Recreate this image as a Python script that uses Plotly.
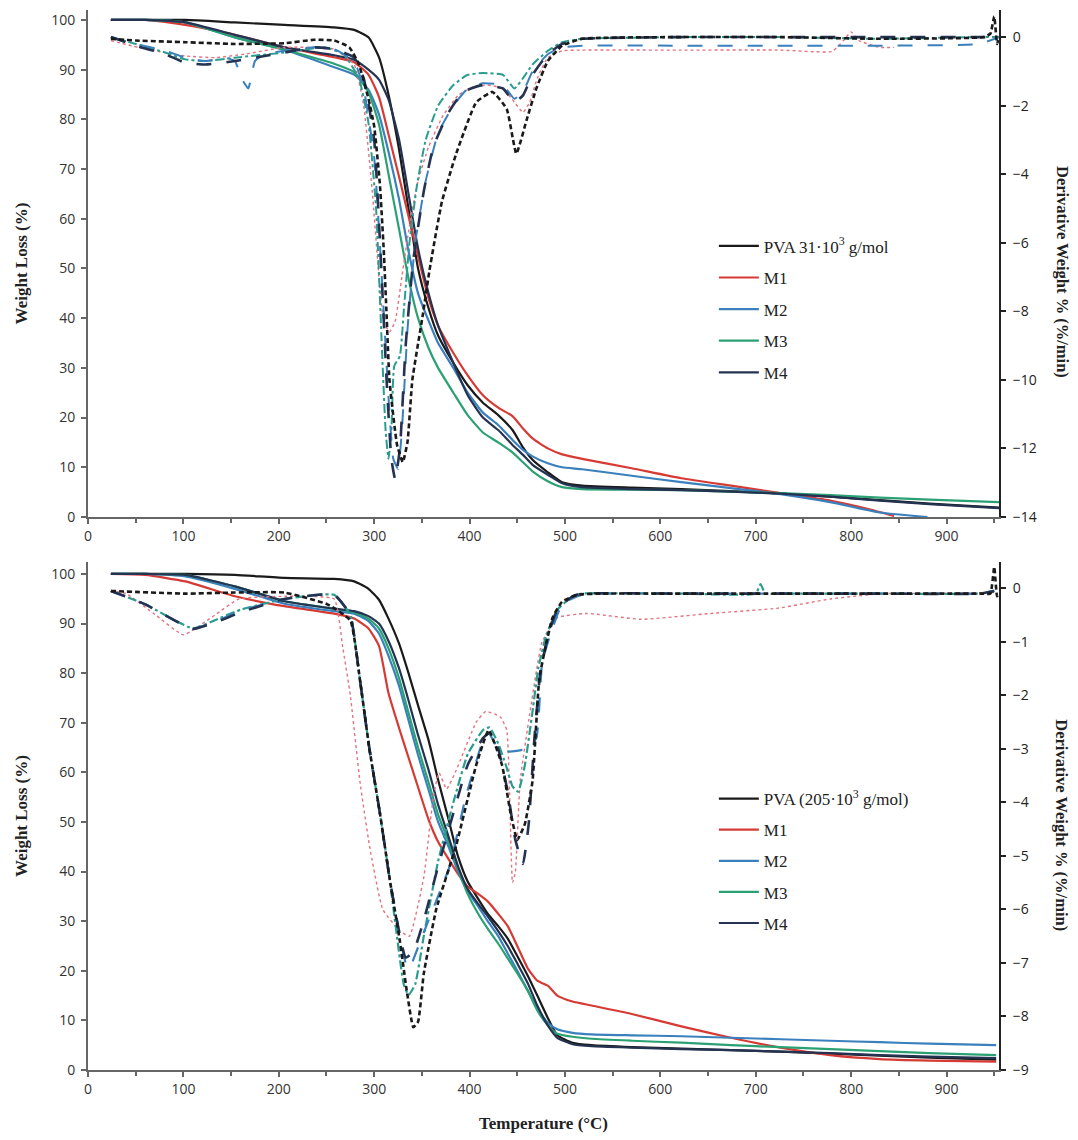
import plotly.graph_objects as go

# ---------------- DATA ----------------
# Top panel (PVA 31·10^3 g/mol) - TGA, weight %
T_tga_top = [24, 60, 102, 154, 206, 258, 279, 294, 305, 315, 326, 336, 346, 357, 367, 383, 398, 414, 430, 445, 456, 466, 482, 497, 518, 570, 622, 674, 726, 778, 830, 882, 955]
w_pva_top = [100, 100, 100, 99.5, 99, 98.5, 98, 96.5, 92.5, 85, 74, 62, 50, 42, 36.5, 31, 26.5, 23, 20.5, 17.5, 14, 11.5, 9, 7, 6.3, 5.9, 5.6, 5.2, 4.7, 4.1, 3.4, 2.7, 1.9]
w_m3_top = [100, 100, 99.5, 96.5, 94, 91.2, 89.5, 85.5, 79, 69, 58, 48, 40, 34, 30, 25, 20.5, 17, 15, 13, 11, 9.2, 7.2, 6, 5.6, 5.5, 5.4, 5.1, 4.8, 4.4, 3.9, 3.5, 3.0]
w_m4_top = [100, 100, 99.5, 97, 94.5, 92.9, 92, 90, 88, 84, 76, 65, 54, 45, 38.5, 31, 24.5, 20, 17.5, 14.5, 12.5, 10.5, 8.5, 6.8, 6, 5.6, 5.4, 5.1, 4.7, 4.1, 3.3, 2.6, 1.8]
T_m1_top = [24, 60, 102, 154, 206, 258, 279, 294, 305, 315, 326, 336, 346, 357, 367, 383, 398, 414, 430, 445, 456, 466, 482, 497, 518, 570, 622, 674, 726, 778, 820, 845]
w_m1_top = [100, 100, 99, 97, 94.5, 92.5, 91.5, 89, 84.5, 77, 68.5, 60.5, 52.5, 44, 38.5, 33, 28.5, 24.5, 22, 20.3, 17.8, 15.8, 13.8, 12.6, 11.7, 9.8, 7.8, 6.3, 4.8, 3.3, 1.5, 0.2]
T_m2_top = [24, 60, 102, 154, 206, 258, 279, 294, 305, 315, 326, 336, 346, 357, 367, 383, 398, 414, 430, 445, 456, 466, 482, 497, 518, 570, 622, 674, 726, 778, 830, 880]
w_m2_top = [100, 100, 99.5, 96.5, 94, 90.5, 89, 86, 81, 73.5, 64, 53.5, 45, 39.5, 35, 30, 25, 21, 18.5, 15.5, 13.5, 12.2, 10.8, 10, 9.6, 8.3, 7.0, 5.8, 4.6, 3.0, 0.9, 0.0]

# Top panel - DTG, derivative weight %/min
T_dpva_top = [24, 50, 102, 154, 206, 237, 258, 274, 284, 294, 300, 306, 310, 313, 316, 324, 330, 335, 340, 351, 358, 371, 386, 407, 424, 439, 449, 460, 470, 482, 497, 518, 622, 726, 830, 939, 946, 950, 953, 955]
d_pva_top = [-0.05, -0.1, -0.15, -0.2, -0.18, -0.08, -0.1, -0.3, -0.8, -1.8, -2.6, -4.3, -6.2, -8.1, -10, -11.9, -12.4, -11.8, -10, -8.1, -6.8, -4.8, -3.4, -1.9, -1.6, -2.1, -3.4, -2.4, -1.5, -0.7, -0.25, -0.05, 0, 0, -0.05, 0, 0.1, 0.6, -0.2, 0]
T_dm1_top = [24, 60, 102, 133, 164, 206, 258, 279, 289, 298, 305, 310, 316, 322, 329, 337, 346, 357, 372, 388, 404, 419, 435, 447, 456, 463, 471, 482, 497, 518, 622, 726, 780, 792, 800, 808, 830, 845]
d_m1_top = [-0.1, -0.35, -0.55, -0.6, -0.5, -0.3, -0.35, -0.8, -2, -4.5, -7, -8.3, -8.6, -8.3, -7, -5.5, -4.2, -3.2, -2.3, -1.7, -1.45, -1.4, -1.5, -1.9, -2.2, -1.9, -1.2, -0.6, -0.4, -0.38, -0.38, -0.38, -0.42, -0.1, 0.15, -0.1, -0.3, -0.3]
T_dm2_top = [24, 50, 81, 102, 123, 144, 154, 161, 168, 175, 185, 206, 237, 258, 279, 289, 300, 308, 315, 320, 325, 329, 335, 343, 354, 367, 383, 398, 414, 435, 447, 456, 466, 482, 497, 518, 622, 726, 830, 934, 955]
d_m2_top = [0, -0.2, -0.4, -0.6, -0.7, -0.6, -0.7, -1.2, -1.5, -0.7, -0.5, -0.4, -0.3, -0.35, -0.7, -1.5, -3.5, -7, -10.5, -12.3, -12.6, -11.5, -8.5, -6, -4.2, -2.8, -2, -1.5, -1.35, -1.4, -1.8, -1.6, -1, -0.5, -0.3, -0.25, -0.25, -0.25, -0.25, -0.2, 0]
T_dm3_top = [24, 50, 81, 102, 123, 154, 206, 248, 268, 284, 294, 302, 308, 312, 315, 318, 321, 327, 331, 337, 345, 354, 367, 383, 398, 414, 435, 447, 456, 466, 482, 497, 518, 622, 726, 830, 934, 955]
d_m3_top = [0, -0.2, -0.45, -0.65, -0.7, -0.6, -0.45, -0.3, -0.5, -1.2, -2.5, -5, -9, -11.5, -12.3, -11.5, -9.6, -9.3, -8, -6, -4.3, -3, -2, -1.4, -1.1, -1.05, -1.1, -1.5, -1.2, -0.8, -0.4, -0.15, -0.05, 0, 0, -0.05, 0, 0]
T_dm4_top = [24, 50, 81, 102, 123, 154, 185, 206, 237, 258, 279, 289, 300, 307, 313, 318, 322, 327, 333, 341, 352, 362, 378, 393, 414, 435, 447, 456, 466, 482, 497, 518, 622, 726, 830, 934, 955]
d_m4_top = [0, -0.25, -0.5, -0.75, -0.8, -0.7, -0.55, -0.45, -0.3, -0.35, -0.6, -1.2, -3, -6.5, -10, -12.3, -12.9, -12, -9, -6.5, -4.5, -3.2, -2.2, -1.6, -1.4, -1.5, -1.9, -1.7, -1.1, -0.5, -0.2, -0.05, 0, 0, 0, 0, 0]

# Bottom panel (PVA 205·10^3 g/mol) - TGA
T_tga_bot = [24, 60, 102, 154, 206, 258, 279, 294, 305, 315, 326, 336, 346, 357, 367, 378, 388, 398, 409, 419, 430, 440, 450, 461, 471, 482, 492, 508, 528, 570, 622, 674, 726, 778, 830, 882, 952]
w_pva_bot = [100, 100, 100, 99.8, 99.2, 99, 98.5, 97, 94.8, 91, 86, 80, 73.5, 66.5, 58.5, 50.5, 43, 38, 34.5, 31.5, 29, 26.5, 23, 19, 15, 10.5, 7, 5.5, 5, 4.6, 4.3, 4, 3.7, 3.3, 2.9, 2.5, 2.1]
w_m1_bot = [100, 99.8, 98.5, 95.5, 93.5, 92, 91, 89, 85.5, 76, 69, 63, 57, 50.5, 46, 42.5, 39.5, 37, 35.5, 34, 31.5, 29, 25, 20.5, 18, 17, 15, 13.8, 13, 11.3, 8.8, 6.5, 4.5, 3, 2.2, 1.9, 1.7]
w_m2_bot = [100, 100, 99.5, 97, 94, 92.5, 92, 90.5, 88, 83.5, 77.5, 70.5, 63.5, 56.5, 50, 45, 40, 36, 33, 30, 27, 23.5, 20, 16, 12.5, 9.5, 8.2, 7.5, 7.2, 7, 6.8, 6.5, 6.2, 5.9, 5.6, 5.3, 5.0]
w_m3_bot = [100, 100, 99.8, 97.5, 94.5, 93, 92.3, 91, 89, 85, 79, 72, 65, 58, 51.5, 46, 40.5, 35.5, 31.5, 28.5, 25.5, 22.5, 19.5, 16, 12, 9, 7.3, 6.7, 6.3, 5.9, 5.5, 5, 4.6, 4.2, 3.8, 3.4, 3.0]
w_m4_bot = [100, 100, 99.8, 97.5, 94.5, 93, 92.5, 91.5, 90, 86.5, 81, 74.5, 67.5, 60.5, 53.5, 47, 41, 36.5, 33.5, 31, 28, 25, 21.5, 17.5, 13, 9, 6.5, 5.2, 4.8, 4.5, 4.2, 4, 3.7, 3.4, 3, 2.7, 2.4]

# Bottom panel - DTG
T_dpva_bot = [24, 102, 154, 206, 251, 275, 285, 295, 306, 316, 327, 334, 341, 346, 352, 365, 386, 407, 420, 434, 443, 450, 458, 466, 473, 480, 487, 497, 513, 539, 622, 726, 830, 939, 946, 950, 953, 955]
d_pva_bot = [-0.05, -0.1, -0.08, -0.08, -0.3, -0.6, -1.7, -3.0, -4.2, -5.4, -6.6, -7.5, -8.2, -8.1, -7.2, -6, -4.8, -3.3, -2.65, -3.3, -4.2, -4.7, -4.4, -3.6, -1.7, -1.06, -0.55, -0.25, -0.12, -0.1, -0.1, -0.1, -0.1, -0.1, -0.1, 0.4, -0.15, -0.1]
T_dm1_bot = [24, 40, 71, 100, 133, 158, 206, 258, 267, 275, 285, 295, 309, 327, 337, 352, 362, 368, 376, 386, 407, 417, 432, 439, 445, 448, 453, 463, 470, 476, 492, 523, 580, 653, 724, 778, 833, 882, 950]
d_m1_bot = [-0.05, -0.1, -0.5, -0.87, -0.5, -0.2, -0.15, -0.2, -1.1, -2, -3.6, -4.8, -6, -6.4, -6.5, -5.4, -3.9, -3.45, -3.75, -3.4, -2.5, -2.3, -2.4, -2.65, -5.5, -5.3, -3.6, -2.35, -1.55, -1.0, -0.55, -0.47, -0.58, -0.47, -0.37, -0.2, -0.1, -0.1, -0.08]
T_dm2_bot = [24, 60, 110, 139, 160, 206, 258, 275, 285, 295, 306, 316, 327, 333, 337, 344, 357, 379, 396, 414, 420, 430, 442, 460, 470, 476, 484, 497, 518, 622, 726, 830, 934, 950]
d_m2_bot = [-0.05, -0.3, -0.76, -0.58, -0.42, -0.2, -0.12, -0.5, -1.7, -3.0, -4.2, -5.4, -6.5, -7.0, -7.1, -6.8, -6.2, -5.2, -3.9, -2.85, -2.7, -3.0, -3.05, -3.0, -2.8, -1.4, -0.9, -0.3, -0.12, -0.1, -0.1, -0.1, -0.1, -0.05]
T_dm3_bot = [24, 60, 110, 139, 160, 206, 258, 275, 285, 295, 306, 316, 326, 331, 336, 343, 352, 367, 383, 398, 414, 421, 430, 438, 445, 451, 458, 466, 472, 480, 492, 508, 518, 622, 700, 705, 710, 726, 830, 934, 950]
d_m3_bot = [-0.05, -0.3, -0.75, -0.55, -0.4, -0.2, -0.12, -0.5, -1.7, -3.0, -4.2, -5.4, -6.8, -7.4, -7.6, -7.4, -6.5, -5.1, -4.0, -3.1, -2.65, -2.6, -2.9, -3.3, -3.7, -3.8, -3.3, -2.3, -1.5, -0.9, -0.4, -0.15, -0.1, -0.1, -0.1, 0.08, -0.1, -0.1, -0.1, -0.1, -0.05]
T_dm4_bot = [24, 60, 110, 139, 160, 206, 258, 275, 285, 295, 306, 316, 327, 333, 341, 352, 367, 383, 398, 414, 421, 430, 440, 448, 456, 462, 468, 474, 482, 492, 508, 518, 622, 726, 830, 934, 950]
d_m4_bot = [-0.05, -0.3, -0.76, -0.6, -0.45, -0.2, -0.12, -0.5, -1.7, -3.0, -4.2, -5.4, -6.5, -6.9, -6.8, -6.2, -5.2, -4.2, -3.3, -2.8, -2.7, -3.0, -3.8, -4.7, -5.15, -4.4, -2.8, -1.6, -0.9, -0.4, -0.15, -0.1, -0.1, -0.1, -0.1, -0.1, -0.05]

legend_top = ["PVA 31·10<sup>3</sup> g/mol", "M1", "M2", "M3", "M4"]
legend_bot = ["PVA (205·10<sup>3</sup> g/mol)", "M1", "M2", "M3", "M4"]

# ---------------- STYLE ----------------
C_PVA = "#1a1a1a"
C_M1 = "#d63a34"
C_M2 = "#3a80bd"
C_M3 = "#2aa073"
C_M4 = "#243352"
C_M1_DTG = "#e27380"
C_M3_DTG = "#2a9d8f"

SERIF = "Liberation Serif"
SANS = "Open Sans"

fig = go.Figure()

def tga(x, y, name, color, xa, ya, leg, grp):
    fig.add_trace(go.Scatter(x=x, y=y, mode="lines", name=name, xaxis=xa, yaxis=ya,
                             line=dict(color=color, width=2.2, shape="spline", smoothing=0.5),
                             legend=leg, legendgroup=grp, hoverinfo="skip"))

def dtg(x, y, color, dash, width, xa, ya):
    fig.add_trace(go.Scatter(x=x, y=y, mode="lines", xaxis=xa, yaxis=ya, showlegend=False,
                             line=dict(color=color, width=width, dash=dash, shape="spline", smoothing=0.4),
                             hoverinfo="skip"))

# top DTG (drawn first, underneath)
dtg(T_dm1_top, d_m1_top, C_M1_DTG, "dot", 1.4, "x", "y2")
dtg(T_dm3_top, d_m3_top, C_M3_DTG, "dashdot", 2.0, "x", "y2")
dtg(T_dm2_top, d_m2_top, C_M2, "longdash", 2.0, "x", "y2")
dtg(T_dm4_top, d_m4_top, C_M4, "longdash", 2.6, "x", "y2")
dtg(T_dpva_top, d_pva_top, C_PVA, "5px,3px", 2.6, "x", "y2")

# top TGA
tga(T_tga_top, w_pva_top, legend_top[0], C_PVA, "x", "y", "legend", "t0")
tga(T_m1_top, w_m1_top, legend_top[1], C_M1, "x", "y", "legend", "t1")
tga(T_m2_top, w_m2_top, legend_top[2], C_M2, "x", "y", "legend", "t2")
tga(T_tga_top, w_m3_top, legend_top[3], C_M3, "x", "y", "legend", "t3")
tga(T_tga_top, w_m4_top, legend_top[4], C_M4, "x", "y", "legend", "t4")

# bottom DTG
dtg(T_dm1_bot, d_m1_bot, C_M1_DTG, "dot", 1.4, "x2", "y4")
dtg(T_dm3_bot, d_m3_bot, C_M3_DTG, "dashdot", 2.2, "x2", "y4")
dtg(T_dm2_bot, d_m2_bot, C_M2, "longdash", 2.2, "x2", "y4")
dtg(T_dm4_bot, d_m4_bot, C_M4, "longdash", 2.6, "x2", "y4")
dtg(T_dpva_bot, d_pva_bot, C_PVA, "5px,3px", 2.6, "x2", "y4")

# bottom TGA
tga(T_tga_bot, w_pva_bot, legend_bot[0], C_PVA, "x2", "y3", "legend2", "b0")
tga(T_tga_bot, w_m1_bot, legend_bot[1], C_M1, "x2", "y3", "legend2", "b1")
tga(T_tga_bot, w_m2_bot, legend_bot[2], C_M2, "x2", "y3", "legend2", "b2")
tga(T_tga_bot, w_m3_bot, legend_bot[3], C_M3, "x2", "y3", "legend2", "b3")
tga(T_tga_bot, w_m4_bot, legend_bot[4], C_M4, "x2", "y3", "legend2", "b4")

tickfont = dict(family=SANS, size=14, color="#333333")
xcommon = dict(range=[0, 955], tick0=0, dtick=100, ticks="outside", ticklen=5, tickwidth=1.5,
               tickcolor="#666666", showline=True, linecolor="#666666", linewidth=2,
               showgrid=False, zeroline=False, tickfont=tickfont, ticklabelstandoff=0,
               minor=dict(dtick=50, ticks="outside", ticklen=4, tickcolor="#666666", showgrid=False))
ycommon = dict(ticks="outside", ticklen=5, tickwidth=1.5, tickcolor="#666666", showline=True,
               linecolor="#666666", linewidth=2, showgrid=False, zeroline=False, tickfont=tickfont,
               ticklabelstandoff=3)
rcommon = dict(ticks="outside", ticklen=5, tickwidth=1.5, tickcolor="#222222", showline=True,
               linecolor="#222222", linewidth=2, showgrid=False, zeroline=False,
               tickfont=dict(family=SANS, size=14, color="#222222"), ticklabelstandoff=4)

title_font = dict(family=SERIF, size=17, color="#222222")
rtitle_font = dict(family=SERIF, size=16.5, color="#222222")

# The page body adds an 8 px offset, so the figure is 8 px smaller than the window.
fig.update_layout(
    width=1070, height=1132,
    margin=dict(l=80, r=79, t=2, b=70),
    paper_bgcolor="white", plot_bgcolor="white",
    xaxis=dict(domain=[0, 1], anchor="y", **xcommon),
    yaxis=dict(domain=[0.5217, 1.0], anchor="x", range=[0, 102], dtick=10,
               title=dict(text="<b>Weight Loss (%)</b>", font=title_font, standoff=19), **ycommon),
    yaxis2=dict(overlaying="y", side="right", anchor="x", range=[-14, 0.79], dtick=2, **rcommon),
    xaxis2=dict(domain=[0, 1], anchor="y3",
                title=dict(text="<b>Temperature (°C)</b>", font=title_font, standoff=20), **xcommon),
    yaxis3=dict(domain=[0, 0.4792], anchor="x2", range=[0, 102.4], dtick=10,
                title=dict(text="<b>Weight Loss (%)</b>", font=title_font, standoff=19), **ycommon),
    yaxis4=dict(overlaying="y3", side="right", anchor="x2", range=[-9, 0.49], dtick=1, **rcommon),
    legend=dict(x=0.687, y=0.794, xanchor="left", yanchor="top", bgcolor="rgba(0,0,0,0)",
                font=dict(family=SERIF, size=17, color="#222222"), traceorder="grouped",
                tracegroupgap=6.5, itemwidth=40),
    legend2=dict(x=0.687, y=0.2726, xanchor="left", yanchor="top", bgcolor="rgba(0,0,0,0)",
                 font=dict(family=SERIF, size=17, color="#222222"), traceorder="grouped",
                 tracegroupgap=6, itemwidth=40),
    annotations=[
        dict(text="<b>Derivative Weight % (%/min)</b>", textangle=90, showarrow=False,
             xref="paper", yref="paper", x=1.069, y=0.753, xanchor="center", yanchor="middle",
             font=rtitle_font),
        dict(text="<b>Derivative Weight % (%/min)</b>", textangle=90, showarrow=False,
             xref="paper", yref="paper", x=1.069, y=0.231, xanchor="center", yanchor="middle",
             font=rtitle_font),
    ],
)

fig.write_html("out.html")
